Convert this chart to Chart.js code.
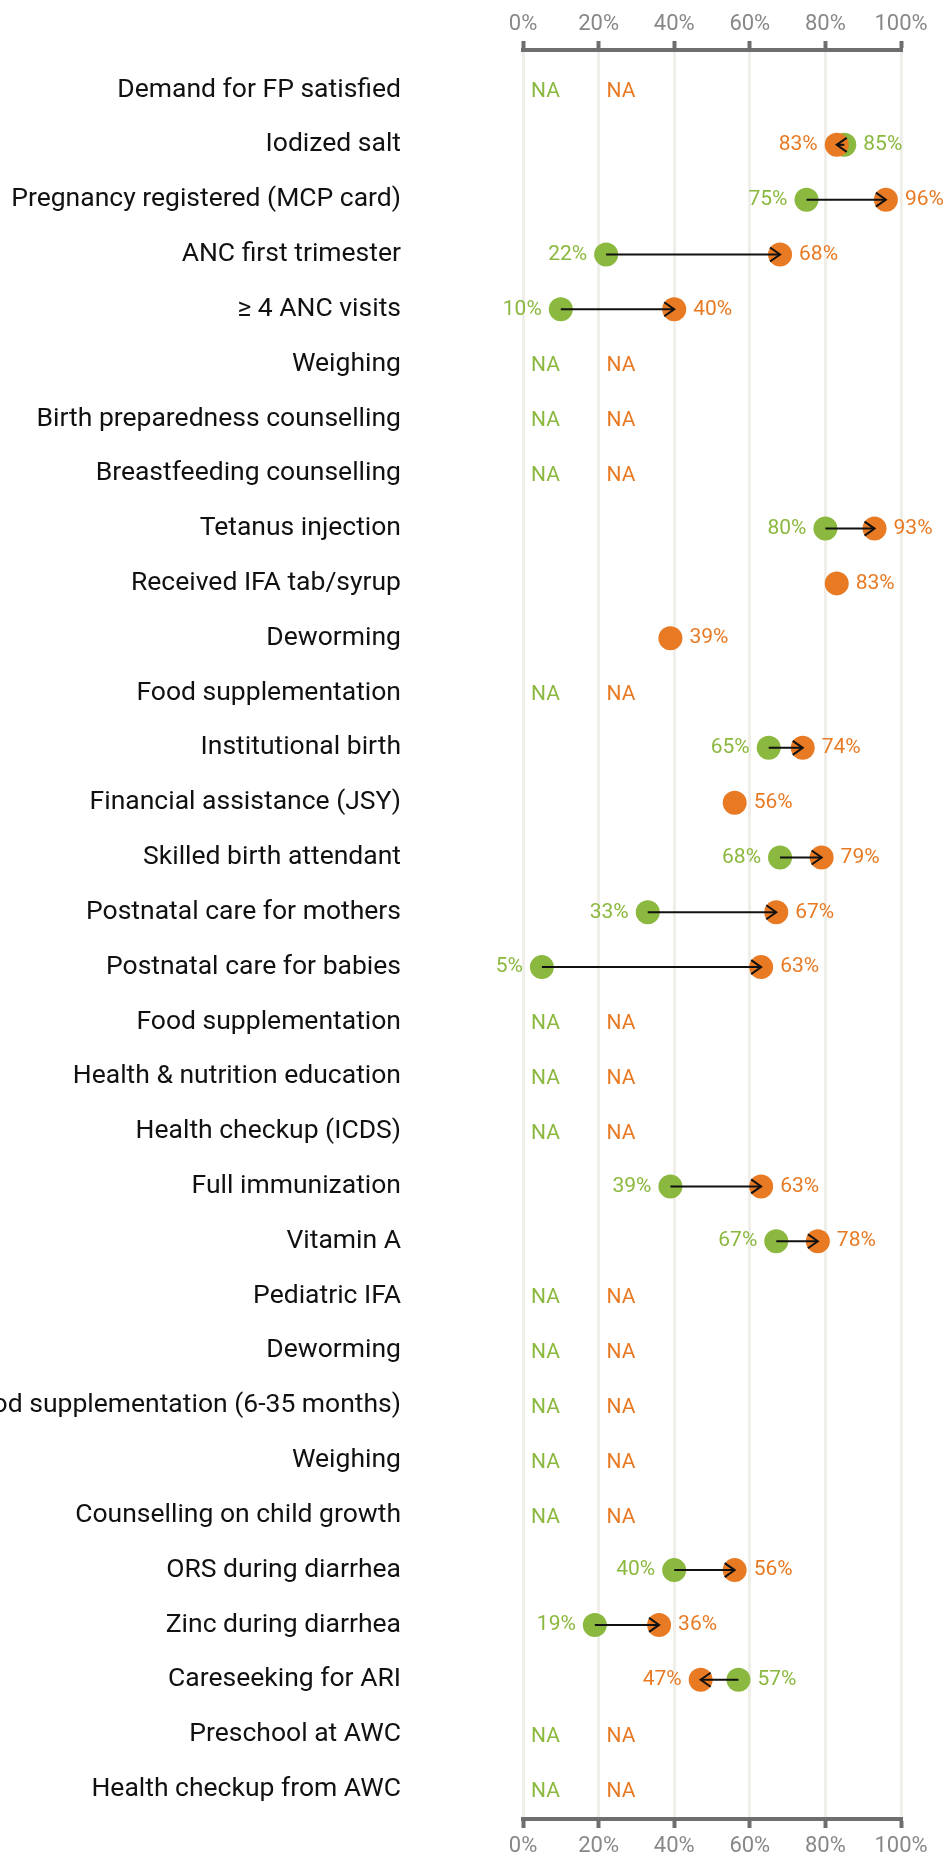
<!DOCTYPE html>
<html>
<head>
<meta charset="utf-8">
<script src="https://cdn.jsdelivr.net/npm/chart.js@4.4.0/dist/chart.umd.min.js"></script>
<style>
  html, body { margin: 0; padding: 0; background: #fff; }
  #wrap { width: 949px; height: 1856px; }
</style>
</head>
<body>
<div id="wrap"><canvas id="mycanvas" width="949" height="1856"></canvas></div>
<script>
var categories = [
  "Demand for FP satisfied",
  "Iodized salt",
  "Pregnancy registered (MCP card)",
  "ANC first trimester",
  "\u2265 4 ANC visits",
  "Weighing",
  "Birth preparedness counselling",
  "Breastfeeding counselling",
  "Tetanus injection",
  "Received IFA tab/syrup",
  "Deworming",
  "Food supplementation",
  "Institutional birth",
  "Financial assistance (JSY)",
  "Skilled birth attendant",
  "Postnatal care for mothers",
  "Postnatal care for babies",
  "Food supplementation",
  "Health & nutrition education",
  "Health checkup (ICDS)",
  "Full immunization",
  "Vitamin A",
  "Pediatric IFA",
  "Deworming",
  "Food supplementation (6-35 months)",
  "Weighing",
  "Counselling on child growth",
  "ORS during diarrhea",
  "Zinc during diarrhea",
  "Careseeking for ARI",
  "Preschool at AWC",
  "Health checkup from AWC"
];

// earlier survey (green) and later survey (orange); null = not available
var greenVals = [null, 85, 75, 22, 10, null, null, null, 80, null, null, null, 65, null, 68, 33, 5,
  null, null, null, 39, 67, null, null, null, null, null, 40, 19, 57, null, null];
var orangeVals = [null, 83, 96, 68, 40, null, null, null, 93, 83, 39, null, 74, 56, 79, 67, 63,
  null, null, null, 63, 78, null, null, null, null, null, 56, 36, 47, null, null];

var xTicks = [0, 20, 40, 60, 80, 100];

var GREEN = "#8bb83e";
var ORANGE = "#e87a24";
var FONT = "Roboto";

function points(vals) {
  var out = [];
  for (var i in vals) {
    if (vals[i] !== null) out.push({ x: vals[i], y: Number(i) });
  }
  return out;
}

var arrowPlugin = {
  id: "arrows",
  afterDatasetsDraw: function(chart) {
    var ctx = chart.ctx;
    var xs = chart.scales.x;
    var ys = chart.scales.y;
    ctx.save();
    ctx.font = "21px " + FONT;
    ctx.textBaseline = "middle";
    for (var i = 0; i < categories.length; i++) {
      var g = greenVals[i], o = orangeVals[i];
      var y = ys.getPixelForValue(i);
      if (g === null && o === null) {
        ctx.textAlign = "left";
        ctx.fillStyle = GREEN;
        ctx.fillText("NA", xs.getPixelForValue(0) + 8, y + 2);
        ctx.fillStyle = ORANGE;
        ctx.fillText("NA", xs.getPixelForValue(20) + 8, y + 2);
        continue;
      }
      var ox = o !== null ? xs.getPixelForValue(o) : null;
      var gx = g !== null ? xs.getPixelForValue(g) : null;
      if (g !== null && o !== null) {
        var dir = ox >= gx ? 1 : -1;
        ctx.strokeStyle = "#111";
        ctx.lineWidth = 2;
        ctx.beginPath();
        ctx.moveTo(gx, y);
        ctx.lineTo(ox, y);
        ctx.stroke();
        ctx.beginPath();
        ctx.moveTo(ox - dir * 10, y - 7);
        ctx.lineTo(ox, y);
        ctx.lineTo(ox - dir * 10, y + 7);
        ctx.stroke();
        ctx.fillStyle = GREEN;
        ctx.textAlign = dir > 0 ? "right" : "left";
        ctx.fillText(g + "%", gx - dir * 19, y);
        ctx.fillStyle = ORANGE;
        ctx.textAlign = dir > 0 ? "left" : "right";
        ctx.fillText(o + "%", ox + dir * 19, y);
      } else if (o !== null) {
        ctx.fillStyle = ORANGE;
        ctx.textAlign = "left";
        ctx.fillText(o + "%", ox + 19, y);
      } else {
        ctx.fillStyle = GREEN;
        ctx.textAlign = "left";
        ctx.fillText(g + "%", gx + 19, y);
      }
    }
    ctx.restore();
  }
};

function xAxis(position, height, pad) {
  return {
    type: "linear",
    position: position,
    min: 0,
    max: 100,
    afterBuildTicks: function(scale) {
      scale.ticks = xTicks.map(function(v) { return { value: v }; });
    },
    afterFit: function(scale) { scale.height = height; },
    grid: {
      color: "#efeee9",
      lineWidth: 3,
      tickColor: "#6e6e6e",
      tickWidth: 4,
      tickLength: 9
    },
    border: { color: "#6e6e6e", width: 4 },
    ticks: {
      padding: pad,
      color: "#888",
      font: { family: FONT, size: 22 },
      callback: function(v) { return v + "%"; }
    }
  };
}

var ctx = document.getElementById("mycanvas");

var chart = new Chart(ctx, {
  type: "scatter",
  data: {
    datasets: [
      {
        label: "later",
        data: points(orangeVals),
        backgroundColor: ORANGE,
        borderWidth: 0,
        pointRadius: 12,
        pointHoverRadius: 12
      },
      {
        label: "earlier",
        data: points(greenVals),
        backgroundColor: GREEN,
        borderWidth: 0,
        pointRadius: 12,
        pointHoverRadius: 12
      }
    ]
  },
  options: {
    responsive: false,
    animation: false,
    events: [],
    layout: { padding: { left: 0, right: 48, top: 0, bottom: 0 } },
    plugins: {
      legend: { display: false },
      tooltip: { enabled: false }
    },
    scales: {
      x: xAxis("top", 50, 3),
      x2: xAxis("bottom", 37, 5),
      y: {
        type: "linear",
        reverse: true,
        min: -0.73,
        max: 31.54,
        afterBuildTicks: function(scale) {
          scale.ticks = categories.map(function(c, i) { return { value: i }; });
        },
        afterFit: function(scale) {
          scale.width = 523;
          // labels may spill past the canvas edge, like the original
          scale.paddingTop = 0;
          scale.paddingBottom = 0;
        },
        grid: { display: false, drawTicks: false },
        border: { display: false },
        ticks: {
          autoSkip: false,
          padding: 122,
          color: "#111",
          font: { family: FONT, size: 26.5 },
          callback: function(v) { return categories[v]; }
        }
      }
    }
  },
  plugins: [arrowPlugin]
});
</script>
</body>
</html>
